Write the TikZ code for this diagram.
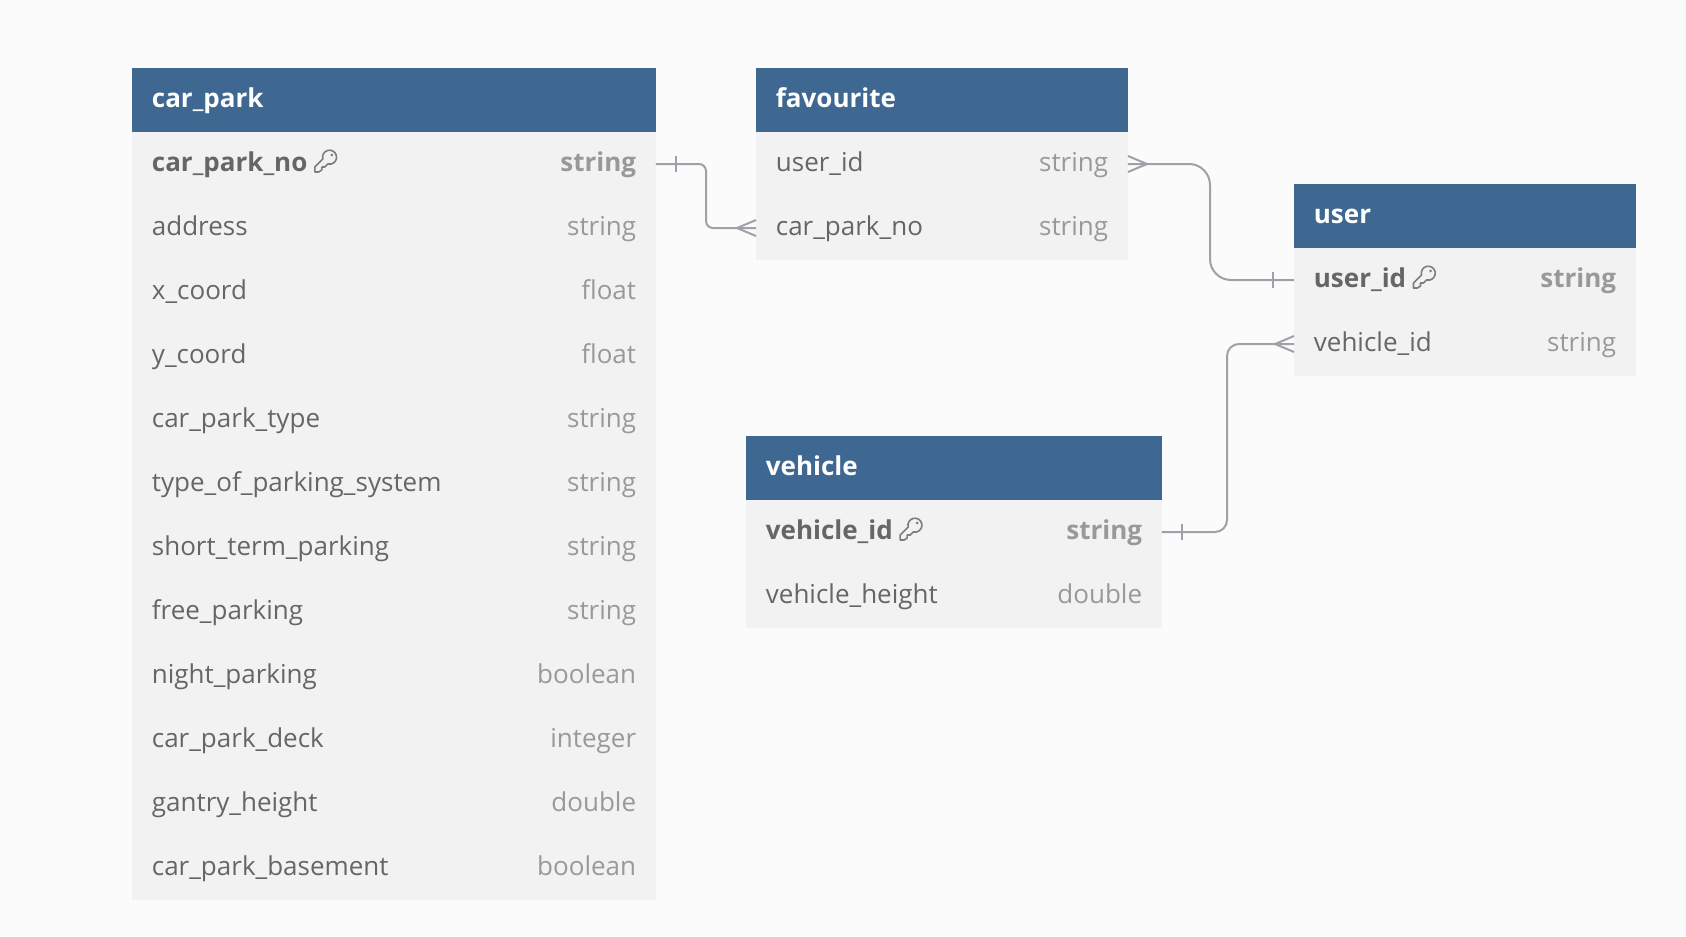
\documentclass[tikz,border=0pt]{standalone}
\usepackage{fontspec}
\setmainfont{Open Sans}
\usetikzlibrary{calc,positioning}
\definecolor{bgcol}{RGB}{251,251,251}
\definecolor{headcol}{RGB}{62,104,145}
\definecolor{rowcol}{RGB}{242,242,242}
\definecolor{namecol}{RGB}{102,102,102}
\definecolor{typecol}{RGB}{153,153,153}
\definecolor{linecol}{RGB}{160,160,168}
\newcommand{\tabfont}{\fontsize{14.8}{18}\selectfont}
\tikzset{
  headbox/.style={fill=headcol,minimum height=1.28cm,inner sep=0pt,outer sep=0pt},
  rowbox/.style={fill=rowcol,minimum height=1.28cm,inner sep=0pt,outer sep=0pt},
  cell/.style={font=\tabfont,inner sep=0pt,text height=0.44cm,text depth=0.16cm},
  headtext/.style={cell,text=white,font=\tabfont\bfseries,anchor=west,xshift=0.39cm,yshift=-0.01cm},
  nametext/.style={cell,text=namecol,anchor=west,xshift=0.39cm},
  typetext/.style={cell,text=typecol,anchor=east,xshift=-0.39cm},
  keyname/.style={nametext,font=\tabfont\bfseries},
  keytype/.style={typetext,font=\tabfont\bfseries},
  conn/.style={draw=linecol,line width=0.04cm},
  keyicon/.pic={
    \draw[namecol!85,line width=0.032cm,line join=round] (-11,11) -- (-11,6) -- (-3,-2)
      arc[start angle=195,end angle=-75,radius=0.14cm] -- (2,3) -- (-1,6) -- (-4,6) -- (-4,9) -- (-7,11) -- cycle;
    \fill[namecol!85] (6,-6) circle (0.03cm);
  }
}
\newcommand{\crowfoot}[2]{% tip point, direction of the table
  \draw[conn] ($(#1)+(#2*19,0)$) -- ($(#1)+(0,8)$);
  \draw[conn] ($(#1)+(#2*19,0)$) -- ($(#1)+(0,-8)$);
}
\newcommand{\onebar}[2]{% table edge, offset of the bar
  \draw[conn,line width=0.03cm] ($(#1)+(#2,-8)$) -- ($(#1)+(#2,8)$);
}
\begin{document}
\begin{tikzpicture}[x=0.02cm,y=-0.02cm]
\useasboundingbox (0,0) rectangle (1686,936);
\fill[bgcol] (0,0) rectangle (1686,936);
% car_park
\node[headbox,minimum width=10.48cm] (parkhead) at (394,100) {};
\node[headtext] (parktitle) at (parkhead.west) {car\_park};
\node[rowbox,minimum width=10.48cm] (park1) at (394,164) {};
\node[keyname] (parkname1) at (park1.west) {car\_park\_no};
\node[keytype] (parktype1) at (park1.east) {string};
\pic at ($(parkname1.east)+(18,-3)$) {keyicon};
\foreach \n/\t [count=\i from 2] in {address/string, x\_coord/float, y\_coord/float,
  car\_park\_type/string, type\_of\_parking\_system/string, short\_term\_parking/string,
  free\_parking/string, night\_parking/boolean, car\_park\_deck/integer,
  gantry\_height/double, car\_park\_basement/boolean}{
  \node[rowbox,minimum width=10.48cm] (park\i) at (394,{100+64*\i}) {};
  \node[nametext] (parkname\i) at (park\i.west) {\n};
  \node[typetext] (parktype\i) at (park\i.east) {\t};
}
% favourite
\node[headbox,minimum width=7.44cm] (favhead) at (942,100) {};
\node[headtext] (favtitle) at (favhead.west) {favourite};
\foreach \n/\t [count=\i] in {user\_id/string, car\_park\_no/string}{
  \node[rowbox,minimum width=7.44cm] (fav\i) at (942,{100+64*\i}) {};
  \node[nametext] (favname\i) at (fav\i.west) {\n};
  \node[typetext] (favtype\i) at (fav\i.east) {\t};
}
% user
\node[headbox,minimum width=6.84cm] (userhead) at (1465,216) {};
\node[headtext] (usertitle) at (userhead.west) {user};
\node[rowbox,minimum width=6.84cm] (user1) at (1465,280) {};
\node[keyname] (username1) at (user1.west) {user\_id};
\node[keytype] (usertype1) at (user1.east) {string};
\pic at ($(username1.east)+(18,-3)$) {keyicon};
\node[rowbox,minimum width=6.84cm] (user2) at (1465,344) {};
\node[nametext] (username2) at (user2.west) {vehicle\_id};
\node[typetext] (usertype2) at (user2.east) {string};
% vehicle
\node[headbox,minimum width=8.32cm] (vehhead) at (954,468) {};
\node[headtext] (vehtitle) at (vehhead.west) {vehicle};
\node[rowbox,minimum width=8.32cm] (veh1) at (954,532) {};
\node[keyname] (vehname1) at (veh1.west) {vehicle\_id};
\node[keytype] (vehtype1) at (veh1.east) {string};
\pic at ($(vehname1.east)+(18,-3)$) {keyicon};
\node[rowbox,minimum width=8.32cm] (veh2) at (954,596) {};
\node[nametext] (vehname2) at (veh2.west) {vehicle\_height};
\node[typetext] (vehtype2) at (veh2.east) {double};
% connectors
\coordinate (parkmid) at (706,200);
\coordinate (favmid) at (1210,200);
\coordinate (vehmid) at (1227,400);
\draw[conn,rounded corners=0.14cm] (park1.east) -- (park1.east -| parkmid) -- (fav2.west -| parkmid) -- (fav2.west);
\draw[conn,rounded corners=0.42cm] (fav1.east) -- (fav1.east -| favmid) -- (user1.west -| favmid) -- (user1.west);
\draw[conn,rounded corners=0.24cm] (veh1.east) -- (veh1.east -| vehmid) -- (user2.west -| vehmid) -- (user2.west);
% line ends
\onebar{park1.east}{20}
\crowfoot{fav2.west}{-1}
\crowfoot{fav1.east}{1}
\onebar{user1.west}{-21}
\onebar{veh1.east}{20}
\crowfoot{user2.west}{-1}
\end{tikzpicture}
\end{document}
